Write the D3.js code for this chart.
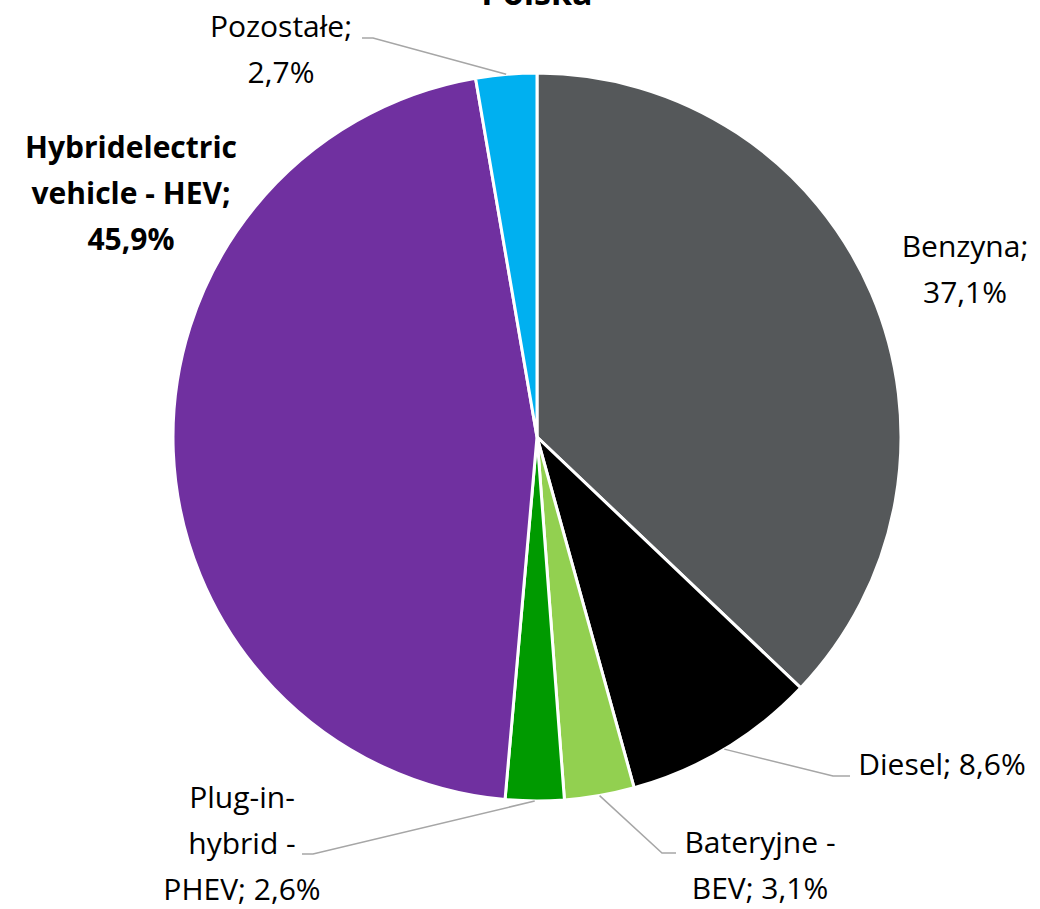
<!DOCTYPE html>
<html>
<head>
<meta charset="utf-8">
<script src="https://cdn.jsdelivr.net/npm/d3@7"></script>
<style>
  body { margin: 0; background: #fff; }
  text { font-family: "Open Sans", Lato, sans-serif; }
</style>
</head>
<body>
<div id="chart"></div>
<script>
//Data
var categories = ["Benzyna", "Diesel", "Bateryjne - BEV", "Plug-in-hybrid - PHEV", "Hybridelectric vehicle - HEV", "Pozostałe"];
var values = [37.1, 8.6, 3.1, 2.6, 45.9, 2.7];
var colors = ["#55585a", "#000000", "#92d050", "#009a00", "#7030a0", "#00b0f0"];
var labelLines = [
  ["Benzyna;", "37,1%"],
  ["Diesel; 8,6%"],
  ["Bateryjne -", "BEV; 3,1%"],
  ["Plug-in-", "hybrid -", "PHEV; 2,6%"],
  ["Hybridelectric", "vehicle - HEV;", "45,9%"],
  ["Pozostałe;", "2,7%"]
];

//Layout constants
var width = 1040,
  height = 909,
  cx = 537,
  cy = 437,
  radius = 364,
  lineHeight = 46;

//label anchor (x of text centre, baseline of first line) and leader elbow
var labelPos = [
  { x: 965, y: 257, leader: null },
  { x: 942, y: 775, leader: [[833, 776], [850, 776]] },
  { x: 760, y: 853, leader: [[662, 853], [676, 853]] },
  { x: 242, y: 808, leader: [[313, 854], [302, 854]] },
  { x: 131, y: 158, leader: null, bold: true },
  { x: 281, y: 37, leader: [[373, 38], [362, 38]] }
];

var svg = d3
  .select("#chart")
  .append("svg")
  .attr("width", width)
  .attr("height", height);

var pie = d3.pie().sort(null).value(function (d) {
  return d;
});
var arcs = pie(values);

var arc = d3.arc().innerRadius(0).outerRadius(radius);

var g = svg.append("g").attr("transform", "translate(" + cx + "," + cy + ")");

g.selectAll("path")
  .data(arcs)
  .enter()
  .append("path")
  .attr("d", arc)
  .attr("fill", function (d, i) {
    return colors[i];
  })
  .attr("stroke", "#fff")
  .attr("stroke-width", 3)
  .attr("stroke-linejoin", "round");

//Leader lines from the slice edge to the label
arcs.forEach(function (d, i) {
  var p = labelPos[i];
  if (!p.leader) return;
  var a = (d.startAngle + d.endAngle) / 2;
  var start = [cx + Math.sin(a) * radius, cy - Math.cos(a) * radius];
  var pts = [start].concat(p.leader);
  svg
    .append("path")
    .attr("d", d3.line()(pts))
    .attr("fill", "none")
    .attr("stroke", "#a6a6a6")
    .attr("stroke-width", 1.5);
});

//Labels
labelPos.forEach(function (p, i) {
  var t = svg
    .append("text")
    .attr("text-anchor", "middle")
    .attr("font-size", 30)
    .attr("font-weight", p.bold ? "bold" : "normal")
    .attr("fill", "#000");
  labelLines[i].forEach(function (s, j) {
    t.append("tspan")
      .attr("x", p.x)
      .attr("y", p.y + j * lineHeight)
      .text(s);
  });
});

//Title (cut off at top)
svg
  .append("text")
  .attr("x", 537)
  .attr("y", 5)
  .attr("text-anchor", "middle")
  .attr("font-size", 34)
  .attr("font-weight", "bold")
  .text("Polska");
</script>
</body>
</html>
